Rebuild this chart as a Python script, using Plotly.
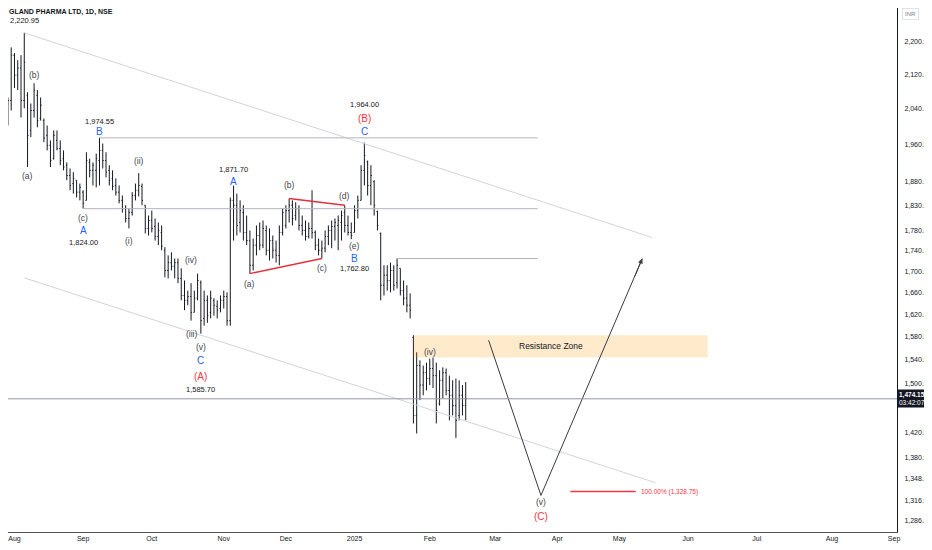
import numpy as np
import pandas as pd
import plotly.graph_objects as go

# Calendario NSE: días hábiles sin festivos + sesión especial del presupuesto (1-feb-2025)
holidays = ['2024-08-15', '2024-10-02', '2024-11-15', '2024-11-20', '2024-12-25',
            '2025-02-26', '2025-03-14', '2025-03-31', '2025-04-10', '2025-04-14',
            '2025-04-18', '2025-05-01', '2025-08-15', '2025-08-27']
special_sessions = ['2025-02-01']

days = pd.bdate_range('2024-07-26', '2025-09-05')
days = days.drop(pd.to_datetime(holidays)).union(pd.to_datetime(special_sessions))
dates = [d.strftime('%Y-%m-%d') for d in days]

# Velas diarias (aprox.)
opens = [1980, 2008, 2031, 2059, 2166, 2118, 2135, 2059, 2071, 1991,
         2036, 2071, 2018, 2013, 1980, 1958, 1929, 1969, 1951, 1929,
         1915, 1893, 1876, 1883, 1858, 1858, 1841, 1921, 1904, 1904,
         1925, 1947, 1925, 1904, 1887, 1872, 1858, 1841, 1824, 1804,
         1816, 1851, 1862, 1870, 1831, 1784, 1800, 1788, 1768, 1776,
         1741, 1702, 1717, 1710, 1717, 1687, 1655, 1646, 1653, 1624,
         1650, 1679, 1613, 1646, 1624, 1646, 1635, 1631, 1646, 1653,
         1609, 1841, 1831, 1796, 1816, 1776, 1760, 1712, 1751, 1770,
         1751, 1780, 1741, 1760, 1741, 1731, 1776, 1790, 1820, 1831,
         1810, 1824, 1790, 1780, 1768, 1784, 1776, 1751, 1741, 1745,
         1768, 1780, 1788, 1790, 1796, 1816, 1790, 1776, 1776, 1820,
         1841, 1904, 1922, 1872, 1880, 1818, 1774, 1674, 1693, 1683,
         1702, 1679, 1706, 1664, 1650, 1637, 1579, 1447, 1530, 1497,
         1518, 1508, 1525, 1513, 1466, 1505, 1518, 1488, 1480, 1463,
         1447, 1480, 1463]
highs = [2018, 2041, 2066, 2185, 2171, 2154, 2166, 2220.95, 2078, 2052,
         2099, 2083, 2066, 2018, 2002, 1969, 1991, 1991, 1969, 1947,
         1921, 1908, 1900, 1883, 1876, 1862, 1943, 1929, 1921, 1940,
         1974.55, 1962, 1943, 1915, 1904, 1887, 1872, 1851, 1831, 1824,
         1858, 1876, 1898, 1876, 1831, 1810, 1820, 1804, 1796, 1790,
         1747, 1731, 1737, 1725, 1725, 1706, 1683, 1664, 1678, 1664,
         1696, 1683, 1664, 1655, 1664, 1650, 1646, 1655, 1664, 1661,
         1847, 1871.70, 1855, 1841, 1831, 1810, 1780, 1764, 1790, 1796,
         1800, 1790, 1784, 1770, 1760, 1790, 1824, 1831, 1845, 1841,
         1837, 1831, 1810, 1800, 1796, 1862, 1780, 1764, 1760, 1780,
         1790, 1800, 1804, 1810, 1820, 1831, 1810, 1796, 1831, 1851,
         1915, 1964.00, 1925, 1915, 1883, 1820, 1776, 1712, 1712, 1717,
         1712, 1725, 1706, 1683, 1674, 1659, 1583, 1553, 1539, 1530,
         1535, 1542, 1544, 1535, 1522, 1527, 1525, 1513, 1505, 1508,
         1505, 1497, 1502]
lows = [1969, 1991, 2002, 2036, 2088, 2083, 2020, 2041, 1911, 1976,
        2020, 1998, 2013, 1965, 1947, 1911, 1927, 1947, 1915, 1904,
        1883, 1862, 1855, 1847, 1841, 1824.00, 1841, 1889, 1872, 1868,
        1872, 1908, 1889, 1872, 1862, 1851, 1835, 1816, 1796, 1784,
        1810, 1841, 1849, 1831, 1774, 1770, 1776, 1760, 1751, 1741,
        1689, 1687, 1702, 1687, 1678, 1646, 1628, 1637, 1609, 1624,
        1646, 1585.70, 1600, 1605, 1613, 1618, 1613, 1624, 1631, 1600,
        1600, 1760, 1770, 1776, 1760, 1751, 1696, 1702, 1731, 1741,
        1745, 1731, 1721, 1725, 1717, 1712, 1770, 1784, 1796, 1790,
        1800, 1780, 1770, 1760, 1764, 1764, 1741, 1731, 1725, 1737,
        1751, 1745, 1760, 1741, 1760, 1776, 1770, 1762.80, 1776, 1804,
        1841, 1872, 1851, 1831, 1810, 1780, 1646, 1655, 1664, 1661,
        1664, 1668, 1655, 1637, 1624, 1613, 1434, 1418, 1472, 1480,
        1488, 1497, 1492, 1434, 1463, 1475, 1480, 1439, 1447, 1411,
        1439, 1447, 1439]
closes = [2008, 2031, 2059, 2166, 2118, 2135, 2059, 2149, 1980, 2036,
          2083, 2013, 2048, 1974, 1958, 1925, 1980, 1951, 1925, 1911,
          1893, 1872, 1887, 1858, 1868, 1835, 1925, 1904, 1915, 1929,
          1947, 1925, 1900, 1883, 1870, 1858, 1841, 1824, 1804, 1816,
          1851, 1862, 1872, 1841, 1784, 1800, 1784, 1768, 1780, 1749,
          1702, 1717, 1710, 1717, 1687, 1655, 1646, 1653, 1624, 1650,
          1683, 1609, 1646, 1618, 1650, 1637, 1628, 1646, 1653, 1609,
          1841, 1831, 1790, 1820, 1776, 1760, 1712, 1751, 1770, 1751,
          1784, 1741, 1760, 1741, 1731, 1776, 1816, 1820, 1831, 1804,
          1824, 1790, 1780, 1768, 1784, 1776, 1751, 1741, 1745, 1768,
          1780, 1788, 1796, 1800, 1810, 1790, 1776, 1770, 1820, 1841,
          1904, 1936, 1872, 1893, 1831, 1790, 1674, 1693, 1683, 1702,
          1674, 1712, 1664, 1650, 1637, 1628, 1447, 1530, 1497, 1518,
          1508, 1525, 1513, 1455, 1505, 1518, 1488, 1480, 1463, 1439,
          1480, 1463, 1474.15]
last_price = 1474.15

# Eje de precios (escala log)
price_ticks = [2200, 2120, 2040, 1960, 1880, 1830, 1780, 1740, 1700, 1660,
               1620, 1580, 1540, 1500, 1420, 1380, 1348, 1316, 1286]

# Dibujos: canal, niveles, triángulo, proyección
channel_upper = (['2024-08-06', '2025-05-16'], [2220.95, 1766])
channel_lower = (['2024-08-06', '2025-05-19'], [1688, 1342])
level_prices = [1974.55, 1824.00, 1725.0]
level_starts = ['2024-09-09', '2024-09-02', '2025-01-20']
level_end = '2025-03-21'
tri_lower = (['2024-11-13', '2024-12-17'], [1696, 1725])
tri_upper = (['2024-12-03', '2024-12-27'], [1845, 1831])
path_x = ['2025-02-27', '2025-03-24', '2025-05-13']
path_y = [1574, 1323, 1725]
target_x = ['2025-04-07', '2025-05-09']
target_price = 1328.75
zone_x = ['2025-01-27', '2025-06-10']
zone_y = [1544, 1583]

# Etiquetas de ondas
labels = [
    ('2024-08-06', 2253, '2,220.95', 'num'),
    ('2024-08-09', 2118, '(b)', 'w'),
    ('2024-08-07', 1893, '(a)', 'w'),
    ('2024-09-09', 2011, '1,974.55', 'num'),
    ('2024-09-09', 1989, 'B', 'blue'),
    ('2024-09-02', 1806, '(c)', 'w'),
    ('2024-09-02', 1780, 'A', 'blue'),
    ('2024-09-02', 1757, '1,824.00', 'num'),
    ('2024-09-20', 1759, '(i)', 'w'),
    ('2024-09-25', 1923, '(ii)', 'w'),
    ('2024-10-18', 1723, '(iv)', 'w'),
    ('2024-10-18', 1586, '(iii)', 'w'),
    ('2024-10-23', 1562, '(v)', 'w'),
    ('2024-10-23', 1539, 'C', 'blue'),
    ('2024-10-23', 1512, '(A)', 'red'),
    ('2024-10-23', 1490, '1,585.70', 'num'),
    ('2024-11-06', 1906, '1,871.70', 'num'),
    ('2024-11-06', 1881, 'A', 'blue'),
    ('2024-11-13', 1676, '(a)', 'w'),
    ('2024-12-03', 1874, '(b)', 'w'),
    ('2024-12-17', 1706, '(c)', 'w'),
    ('2024-12-27', 1851, '(d)', 'w'),
    ('2025-01-01', 1749, '(e)', 'w'),
    ('2025-01-01', 1725, 'B', 'blue'),
    ('2025-01-01', 1706, '1,762.80', 'num'),
    ('2025-01-06', 2050, '1,964.00', 'num'),
    ('2025-01-06', 2018, '(B)', 'red'),
    ('2025-01-06', 1989, 'C', 'blue'),
    ('2025-02-01', 1553, '(iv)', 'w'),
    ('2025-03-24', 1314, '(v)', 'w'),
    ('2025-03-24', 1292, '(C)', 'red'),
]
label_style = {'num': ('#131722', 7.5), 'w': ('#434651', 8.5),
               'blue': ('#2962ff', 10), 'red': ('#f23645', 10)}

# Marcas de meses en el eje X
tick_dates, tick_text, seen = [], [], set()
for d in days:
    if d < pd.Timestamp('2024-08-01') or (d.year, d.month) in seen:
        continue
    seen.add((d.year, d.month))
    tick_dates.append(d.strftime('%Y-%m-%d'))
    tick_text.append(str(d.year) if d.month == 1 else d.strftime('%b'))

n = len(closes)
fig = go.Figure()
# traza invisible para fijar todas las categorías (pasado y futuro)
fig.add_trace(go.Scatter(x=dates, y=[None] * len(dates), mode='lines', hoverinfo='skip'))

fig.add_trace(go.Scatter(x=[zone_x[0], zone_x[1], zone_x[1], zone_x[0], zone_x[0]],
                         y=[zone_y[0], zone_y[0], zone_y[1], zone_y[1], zone_y[0]],
                         fill='toself', fillcolor='rgba(255,152,0,0.2)', mode='lines',
                         line=dict(width=0), hoverinfo='skip'))

for xs, ys in [channel_upper, channel_lower]:
    fig.add_trace(go.Scatter(x=xs, y=ys, mode='lines', line=dict(color='#d1d4dc', width=1), hoverinfo='skip'))
for p, s in zip(level_prices, level_starts):
    fig.add_trace(go.Scatter(x=[s, level_end], y=[p, p], mode='lines', line=dict(color='#b2b5be', width=1), hoverinfo='skip'))
for xs, ys in [tri_lower, tri_upper]:
    fig.add_trace(go.Scatter(x=xs, y=ys, mode='lines', line=dict(color='#e0303c', width=1.5), hoverinfo='skip'))

fig.add_trace(go.Ohlc(x=dates[:n], open=opens, high=highs, low=lows, close=closes,
                      increasing_line_color='#131722', decreasing_line_color='#131722',
                      line_width=1, tickwidth=0.3, hoverinfo='skip'))

fig.add_trace(go.Scatter(x=path_x, y=path_y, mode='lines', line=dict(color='#363a45', width=1), hoverinfo='skip'))
fig.add_trace(go.Scatter(x=target_x, y=[target_price, target_price], mode='lines',
                         line=dict(color='#f23645', width=1.5), hoverinfo='skip'))

fig.add_shape(type='line', xref='paper', x0=0, x1=1, yref='y', y0=last_price, y1=last_price,
              line=dict(color='#9598a1', width=1))

for x, p, t, k in labels:
    col, size = label_style[k]
    fig.add_annotation(x=x, y=np.log10(p), text=t, showarrow=False,
                       font=dict(color=col, size=size))

fig.add_annotation(x='2025-03-27', y=np.log10(np.sqrt(zone_y[0] * zone_y[1])), text='Resistance Zone',
                   showarrow=False, font=dict(color='#131722', size=8.5))
fig.add_annotation(x='2025-05-12', y=np.log10(target_price), text='100.00% (1,328.75)',
                   showarrow=False, xanchor='left', font=dict(color='#f23645', size=6.5))
# punta de flecha de la proyección
fig.add_annotation(x=path_x[-1], y=np.log10(path_y[-1]), text='', showarrow=True,
                   ax=-8, ay=19, arrowhead=2, arrowsize=1, arrowwidth=1, arrowcolor='#363a45')

fig.add_annotation(xref='paper', yref='paper', x=0, y=1, xanchor='left', yanchor='top',
                   xshift=0, yshift=1, borderpad=0, text='<b>GLAND PHARMA LTD, 1D, NSE</b>', showarrow=False,
                   font=dict(family='Liberation Sans Narrow, Liberation Sans', size=7, color='#131722'))
fig.add_annotation(xref='paper', yref='paper', x=1, y=1, xanchor='left', yanchor='top',
                   xshift=5, yshift=0, text='INR', showarrow=False, bordercolor='#e0e3eb',
                   borderwidth=1, borderpad=2, font=dict(size=6, color='#787b86'))
fig.add_annotation(xref='paper', yref='y', x=1, y=np.log10(last_price), xanchor='left',
                   text='<b>1,474.15</b><br>03:42:07', showarrow=False, bgcolor='#131722',
                   borderpad=1, align='center', font=dict(size=6.5, color='white'))

# la página añade 8 px de margen: la figura ocupa 924x542 y el rango empieza en la barra visible
fig.update_xaxes(type='category', categoryorder='array', categoryarray=dates,
                 range=[2.02, 273.89], tickvals=tick_dates, ticktext=tick_text,
                 showgrid=False, zeroline=False, showline=True, linecolor='#50535e',
                 ticks='', tickfont=dict(size=7, color='#131722'), rangeslider_visible=False)
fig.update_yaxes(type='log', side='right', range=[3.10376, 3.35862],
                 tickvals=price_ticks, ticktext=[f'{v:,.2f}' for v in price_ticks],
                 showgrid=False, zeroline=False, showline=True, linecolor='#131722',
                 ticks='', ticklabelstandoff=5, tickfont=dict(size=7, color='#131722'))
fig.update_layout(width=924, height=542, margin=dict(l=0, r=35, t=0, b=18),
                  plot_bgcolor='white', paper_bgcolor='white', showlegend=False,
                  font=dict(family='Liberation Sans, Arial'))

fig.write_html("out.html")
